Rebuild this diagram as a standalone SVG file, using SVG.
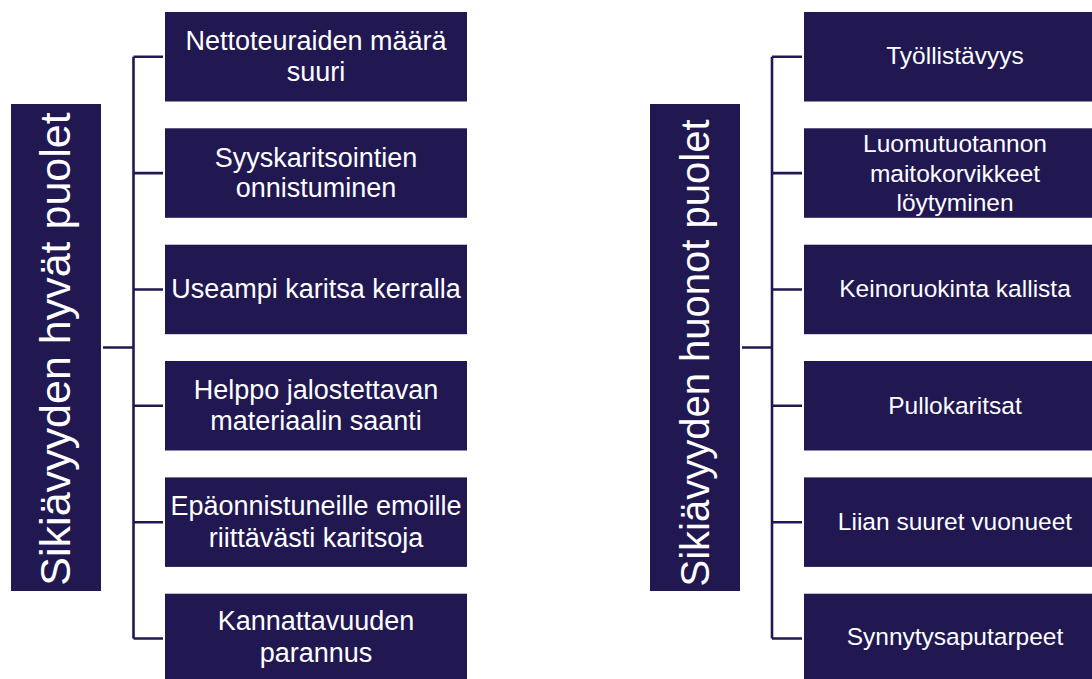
<svg xmlns="http://www.w3.org/2000/svg" width="1092" height="679" viewBox="0 0 1092 679">
<style>
.box{fill:#211852;}
.root{fill:#211852;}
.t{font-family:"Liberation Sans",Arial,sans-serif;fill:#ffffff;text-anchor:middle;}
.l{font-size:27px;}
.r{font-size:24.5px;}
.big{font-size:43px;}
.con{stroke:#211852;stroke-width:2.6;fill:none;}
</style>
<rect width="1092" height="679" fill="#ffffff"/>
<g id="connectors">
<path class="con" d="M103,347.5 H133.5 M133.5,56.8 V638.5 M133.5,56.8 H163 M133.5,173.1 H163 M133.5,289.5 H163 M133.5,405.8 H163 M133.5,522.2 H163 M133.5,638.5 H163"/>
<path class="con" d="M742,347.5 H772 M772,56.8 V638.5 M772,56.8 H802 M772,173.1 H802 M772,289.5 H802 M772,405.8 H802 M772,522.2 H802 M772,638.5 H802"/>
</g>
<g id="root-left">
<rect class="root" x="11" y="104" width="90" height="487"/>
<text class="t big" transform="translate(70,349) rotate(-90)">Sikiävyyden hyvät puolet</text>
</g>
<g id="root-right">
<rect class="root" x="650" y="104" width="90" height="487"/>
<text class="t big" style="font-size:40px" transform="translate(709,353) rotate(-90)">Sikiävyyden huonot puolet</text>
</g>
<g id="l1"><rect class="box" x="165" y="12" width="302" height="89.5"/>
<text class="t l" x="316" y="49.5">Nettoteuraiden määrä</text><text class="t l" x="316" y="81">suuri</text></g>
<g id="l2"><rect class="box" x="165" y="128.3" width="302" height="89.5"/>
<text class="t l" x="316" y="166.5">Syyskaritsointien</text><text class="t l" x="316" y="197">onnistuminen</text></g>
<g id="l3"><rect class="box" x="165" y="244.7" width="302" height="89.5"/>
<text class="t l" x="316" y="297.5">Useampi karitsa kerralla</text></g>
<g id="l4"><rect class="box" x="165" y="361" width="302" height="89.5"/>
<text class="t l" x="316" y="398.5">Helppo jalostettavan</text><text class="t l" x="316" y="430">materiaalin saanti</text></g>
<g id="l5"><rect class="box" x="165" y="477.4" width="302" height="89.5"/>
<text class="t l" x="316" y="515">Epäonnistuneille emoille</text><text class="t l" x="316" y="546.5">riittävästi karitsoja</text></g>
<g id="l6"><rect class="box" x="165" y="593.7" width="302" height="89.5"/>
<text class="t l" x="316" y="630">Kannattavuuden</text><text class="t l" x="316" y="661.5">parannus</text></g>
<g id="r1"><rect class="box" x="804" y="12" width="302" height="89.5"/>
<text class="t r" x="955" y="63.5">Työllistävyys</text></g>
<g id="r2"><rect class="box" x="804" y="128.3" width="302" height="89.5"/>
<text class="t r" x="955" y="152">Luomutuotannon</text><text class="t r" x="955" y="181.5">maitokorvikkeet</text><text class="t r" x="955" y="210.5">löytyminen</text></g>
<g id="r3"><rect class="box" x="804" y="244.7" width="302" height="89.5"/>
<text class="t r" x="955" y="297">Keinoruokinta kallista</text></g>
<g id="r4"><rect class="box" x="804" y="361" width="302" height="89.5"/>
<text class="t r" x="955" y="413.5">Pullokaritsat</text></g>
<g id="r5"><rect class="box" x="804" y="477.4" width="302" height="89.5"/>
<text class="t r" x="955" y="530">Liian suuret vuonueet</text></g>
<g id="r6"><rect class="box" x="804" y="593.7" width="302" height="89.5"/>
<text class="t r" x="955" y="645">Synnytysaputarpeet</text></g>
</svg>
